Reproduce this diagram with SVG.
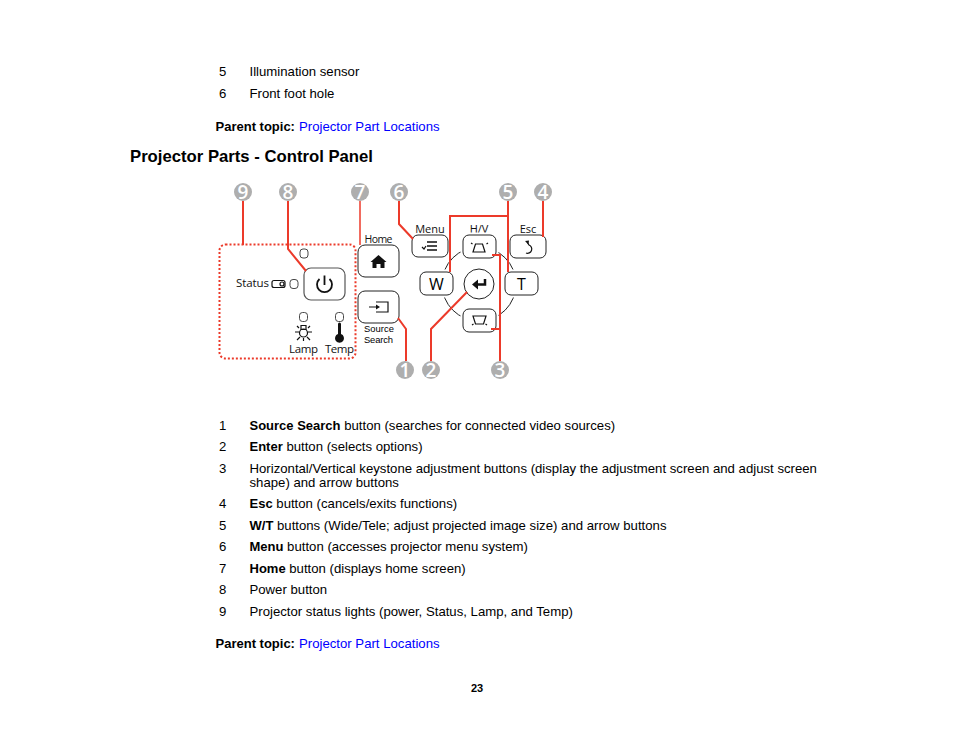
<svg xmlns="http://www.w3.org/2000/svg" width="954" height="738" viewBox="0 0 954 738">
<style>
text{font-family:"Liberation Sans",Arial,sans-serif;fill:#000}
.t{font-size:13.18px}
.b{font-weight:bold;font-size:13px}
.l{fill:#0000ff}
.h{font-size:16.7px;font-weight:bold}
.f{font-family:"Open Sans","Noto Sans",sans-serif;font-size:10px;fill:#111}
.btn{fill:#fff;stroke:#222;stroke-width:1}
.halo{fill:#fff;stroke:#fff;stroke-width:5}
.led{fill:#fff;stroke:#333;stroke-width:.9}
.c{fill:none;stroke:#ec3a2a;stroke-width:2}
.numc{fill:#aeaeae}
.n{font-family:"Open Sans","Noto Sans",sans-serif;font-size:19px;font-weight:600;fill:#fff;text-anchor:middle}
.ic{fill:#111;stroke:none}
.il{fill:none;stroke:#111;stroke-width:1.200}
</style>
<g id="page-text">
<text class="t" x="219" y="76">5</text><text class="t" x="249.500" y="76">Illumination sensor</text>
<text class="t" x="219" y="98">6</text><text class="t" x="249.500" y="98">Front foot hole</text>
<text class="b" x="215.500" y="131">Parent topic:</text><text class="t l" x="299" y="131">Projector Part Locations</text>
<text class="h" x="130" y="161.500">Projector Parts - Control Panel</text>
<text class="t" x="219" y="430">1</text><text class="t" x="249.500" y="430"><tspan class="b">Source Search</tspan> button (searches for connected video sources)</text>
<text class="t" x="219" y="451">2</text><text class="t" x="249.500" y="451"><tspan class="b">Enter</tspan> button (selects options)</text>
<text class="t" x="219" y="473">3</text><text class="t" x="249.500" y="473">Horizontal/Vertical keystone adjustment buttons (display the adjustment screen and adjust screen</text>
<text class="t" x="249.500" y="487">shape) and arrow buttons</text>
<text class="t" x="219" y="508">4</text><text class="t" x="249.500" y="508"><tspan class="b">Esc</tspan> button (cancels/exits functions)</text>
<text class="t" x="219" y="530">5</text><text class="t" x="249.500" y="530"><tspan class="b">W/T</tspan> buttons (Wide/Tele; adjust projected image size) and arrow buttons</text>
<text class="t" x="219" y="551">6</text><text class="t" x="249.500" y="551"><tspan class="b">Menu</tspan> button (accesses projector menu system)</text>
<text class="t" x="219" y="573">7</text><text class="t" x="249.500" y="573"><tspan class="b">Home</tspan> button (displays home screen)</text>
<text class="t" x="219" y="594">8</text><text class="t" x="249.500" y="594">Power button</text>
<text class="t" x="219" y="616">9</text><text class="t" x="249.500" y="616">Projector status lights (power, Status, Lamp, and Temp)</text>
<text class="b" x="215.500" y="648">Parent topic:</text><text class="t l" x="299" y="648">Projector Part Locations</text>
<text font-weight="bold" font-size="11" x="477" y="692" text-anchor="middle">23</text>
</g>
<circle cx="479" cy="284" r="37" fill="none" stroke="#222" stroke-width="1"/>
<g id="status-panel">
<rect x="219.500" y="244.500" width="136" height="114" rx="6" fill="none" stroke="#ec3a2a" stroke-width="2" stroke-dasharray="2 2"/>
<rect class="led" x="300" y="249" width="8" height="9" rx="3"/>
<text class="f" style="font-size:11.500px" x="236" y="287" textLength="33">Status</text>
<rect x="272" y="280.500" width="13" height="7" rx="2" class="il"/><circle cx="282" cy="284" r="2" class="il"/>
<rect class="led" x="290" y="279.500" width="8" height="9" rx="3"/>
<rect class="led" x="299.500" y="312.500" width="8" height="9" rx="3"/>
<rect class="led" x="335.500" y="312.500" width="8" height="9" rx="3"/>
<circle cx="303.500" cy="333" r="4" class="il"/><path d="M301 325.500h5v4h-5z" class="il"/>
<path d="M295 332H299M308 332H312M297 326L299 328M310 326L308 328M297 340L300 337M310 340L307 337M303.500 338V341" class="il"/>
<path class="ic" d="M338 324a1.500 1.500 0 0 1 3 0v10a4.500 4.500 0 1 1-3 0z"/>
<text class="f" style="font-size:11.500px" x="289" y="353" textLength="29">Lamp</text>
<text class="f" style="font-size:11.500px" x="325" y="353" textLength="29">Temp</text>
</g>
<g id="power"><rect x="304" y="268" width="41" height="32" rx="7" fill="#fff" stroke="#555" stroke-width="1.200"/>
<path d="M319.500 279a7.500 7.500 0 1 0 10 0M324.500 275.500V285" fill="none" stroke="#111" stroke-width="1.800"/></g>
<g id="home"><text class="f" style="font-size:10.500px" x="378.500" y="243" text-anchor="middle" textLength="28">Home</text><rect class="btn" x="358" y="245" width="41" height="32" rx="7"/>
<path class="ic" d="M378.500 255l8 7h-2v6h-4v-4h-4v4h-4v-6h-2z"/></g>
<g id="source-search"><rect class="btn" x="358" y="291" width="41" height="32" rx="7"/>
<path d="M376 302h12v10h-12" class="il"/><path class="ic" d="M369 306.500h7v-2l4 2.500-4 2.500v-2h-7z"/>
<text font-size="9.400" fill="#111" x="364" y="331.500" textLength="30">Source</text><text font-size="9.400" fill="#111" x="364" y="342.500" textLength="29">Search</text></g>
<g id="menu"><text class="f" style="font-size:11px" x="430" y="233" text-anchor="middle">Menu</text><rect class="btn" x="412" y="235" width="36" height="22" rx="6"/>
<path d="M427 242h10M427 246h10M427 250h10" fill="none" stroke="#111" stroke-width="1.500"/><path d="M422 247l2 2 2-3" class="il"/></g>
<g id="hv"><text class="f" style="font-size:11px" x="479" y="233" text-anchor="middle">H/V</text><rect class="halo" x="463" y="235" width="33" height="23" rx="6"/><rect class="btn" x="463" y="235" width="33" height="23" rx="6"/>
<path d="M475.500 244h7l2.500 8h-12zM471 243l1.500 1M488 243l-1.500 1" class="il"/></g>
<g id="esc"><text class="f" style="font-size:11px" x="528" y="233" text-anchor="middle">Esc</text><rect class="btn" x="510" y="235" width="36" height="23" rx="6"/>
<path d="M527 242l2 3a4 4 0 1 1-3 8" class="il"/><path class="ic" d="M525 241l4-.500-.500 4z"/></g>
<g id="w"><rect class="halo" x="420" y="272" width="33" height="23" rx="6"/><rect class="btn" x="420" y="272" width="33" height="23" rx="6"/><text font-size="16" x="436.500" y="290" text-anchor="middle" style="font-family:'Open Sans',sans-serif">W</text></g>
<g id="t"><rect class="halo" x="505" y="272" width="33" height="23" rx="6"/><rect class="btn" x="505" y="272" width="33" height="23" rx="6"/><text font-size="16" x="521.500" y="290" text-anchor="middle" style="font-family:'Open Sans',sans-serif">T</text></g>
<g id="enter"><circle cx="479" cy="284" r="15" fill="#fff" stroke="#222"/>
<path d="M485 279v5.500h-10" fill="none" stroke="#111" stroke-width="2.500"/><path class="ic" d="M478 279.500v10l-6-5z"/></g>
<g id="down"><rect class="halo" x="463" y="309" width="33" height="23" rx="6"/><rect class="btn" x="463" y="309" width="33" height="23" rx="6"/><path d="M473 316h13l-2.500 8h-8zM472 325l1.500-1M487 325l-1.500-1" class="il"/></g>
<g id="connectors">
<path class="c" d="M243 201V245"/>
<path class="c" d="M288 201V249L306 271"/>
<path class="c" style="stroke-width:1.500" d="M360 201V245"/>
<path class="c" d="M399 201V224L413 239"/>
<path class="c" d="M508 201V216H450V272"/>
<path class="c" d="M508 216V272"/>
<path class="c" d="M543 201V237"/>
<path class="c" d="M398 318L406 329V361"/>
<path class="c" d="M467 292L431 329V361"/>
<path class="c" d="M492 255H500V361M491 329H500"/>
</g>
<g id="numbers">
<g id="num-9"><circle class="numc" cx="243" cy="192" r="9"/><text class="n" x="243" y="198.500">9</text></g>
<g id="num-8"><circle class="numc" cx="288" cy="192" r="9"/><text class="n" x="288" y="198.500">8</text></g>
<g id="num-7"><circle class="numc" cx="360" cy="192" r="9"/><text class="n" x="360" y="198.500">7</text></g>
<g id="num-6"><circle class="numc" cx="399" cy="192" r="9"/><text class="n" x="399" y="198.500">6</text></g>
<g id="num-5"><circle class="numc" cx="508" cy="192" r="9"/><text class="n" x="508" y="198.500">5</text></g>
<g id="num-4"><circle class="numc" cx="543" cy="192" r="9"/><text class="n" x="543" y="198.500">4</text></g>
<g id="num-1"><circle class="numc" cx="405" cy="370" r="9"/><text class="n" x="405" y="376.500">1</text></g>
<g id="num-2"><circle class="numc" cx="431" cy="370" r="9"/><text class="n" x="431" y="376.500">2</text></g>
<g id="num-3"><circle class="numc" cx="500" cy="370" r="9"/><text class="n" x="500" y="376.500">3</text></g>
</g>
</svg>
